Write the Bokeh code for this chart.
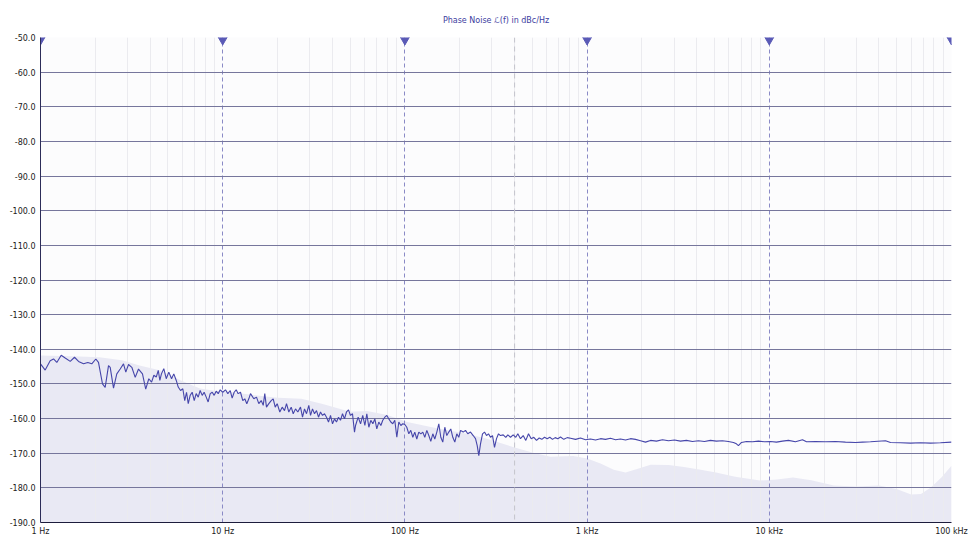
from bokeh.plotting import figure
from bokeh.models import FixedTicker, CustomJSTickFormatter, PrintfTickFormatter, Span, Range1d
from bokeh.embed import file_html
from bokeh.resources import INLINE

title_text = "Phase Noise \u2112(f) in dBc/Hz"

x_tick_values = [1, 10, 100, 1000, 10000, 100000]
x_tick_labels = ["1 Hz", "10 Hz", "100 Hz", "1 kHz", "10 kHz", "100 kHz"]
x_minor_values = [m * d for d in [1, 10, 100, 1000, 10000] for m in range(2, 10)]
y_tick_values = [-190, -180, -170, -160, -150, -140, -130, -120, -110, -100, -90, -80, -70, -60, -50]
marker_freq = 400

# measured phase noise trace
freq = [1.0, 1.061, 1.130, 1.179, 1.229, 1.299, 1.366, 1.456, 1.537, 1.617, 1.722, 1.818, 1.912, 2.012,
        2.081, 2.189, 2.265, 2.362, 2.413, 2.516, 2.623, 2.738, 2.855, 2.939, 3.041, 3.171, 3.310, 3.451,
        3.628, 3.78, 3.93, 4.07, 4.19, 4.32, 4.43, 4.52, 4.61, 4.75, 4.90, 5.06, 5.24, 5.39, 5.56, 5.70,
        5.87, 6.04, 6.19, 6.33, 6.47, 6.63, 6.80, 6.98, 7.15, 7.34, 7.52, 7.72, 7.91, 8.12, 8.32, 8.54,
        8.76, 8.98, 9.21, 9.45, 9.69, 10.01, 10.36, 10.67, 11.00, 11.27, 11.56, 11.86, 12.16, 12.52, 12.89,
        13.22, 13.56, 13.91, 14.21, 14.82, 15.33, 15.78, 16.27, 16.69, 17.02, 17.39, 17.91, 18.46, 18.93,
        19.42, 19.91, 20.58, 21.21, 21.84, 22.40, 23.06, 23.77, 24.38, 25.10, 25.84, 26.73, 27.42, 28.12,
        28.84, 29.69, 30.34, 31.11, 31.90, 32.72, 33.56, 34.42, 35.30, 36.21, 37.13, 38.08, 39.06, 40.06,
        41.08, 42.13, 43.21, 44.31, 45.45, 46.61, 47.80, 49.03, 50.28, 51.57, 52.89, 53.6, 55.4, 57.1,
        58.7, 60.3, 61.8, 63.4, 65.0, 66.7, 68.4, 70.1, 71.9, 73.8, 75.6, 77.6, 79.6, 81.6, 83.7, 85.8,
        88.0, 90.3, 92.6, 95.0, 97.4, 99.9, 102.4, 105.1, 107.7, 110.5, 113.3, 116.2, 119.2, 122.3, 125.4,
        128.6, 131.9, 135.3, 138.7, 142.3, 145.9, 149.7, 153.5, 157.4, 161.4, 165.6, 169.8, 174.1, 178.6,
        183.2, 187.9, 192.7, 197.6, 202.0, 208.9, 215.1, 221.4, 229.1, 237.1, 244.1, 249.4, 254.5, 260.0,
        266.7, 273.5, 280.5, 287.6, 295.0, 302.6, 310.3, 318.3, 326.4, 334.7, 346.3, 357.9, 367.1, 379.8,
        393.0, 406.2, 416.6, 430.9, 446.0, 460.9, 476.9, 493.4, 510.0, 527.7, 545.9, 564.2, 583.8, 604.0,
        624.2, 645.8, 668.2, 690.6, 714.5, 745.0, 777.7, 811, 864, 920, 980, 1044, 1112, 1185, 1262, 1344,
        1432, 1525, 1625, 1730, 1844, 1964, 2092, 2229, 2404, 2593, 2797, 3017, 3254, 3510, 3786, 4084,
        4405, 4751, 5125, 5528, 5963, 6357, 6599, 6770, 7036, 7495, 8084, 8720, 9406, 10150, 10950, 11810,
        12740, 13920, 15210, 16000, 17930, 20340, 23080, 26180, 29710, 32490, 35920, 43420, 46260, 52490,
        59540, 67550, 76640, 86940, 100000]
noise_dbc = [-144.2, -146.0, -143.3, -142.8, -143.8, -141.7, -142.5, -143.5, -142.3, -143.5, -144.2, -143.8,
             -144.2, -142.8, -143.8, -150.0, -151.0, -144.7, -145.2, -151.2, -147.1, -145.7, -144.2, -146.6,
             -144.4, -145.2, -148.1, -145.7, -147.1, -151.5, -148.5, -149.5, -147.5, -148.0, -146.1, -149.0,
             -147.1, -145.6, -148.5, -146.6, -148.5, -147.1, -149.0, -150.9, -151.9, -151.4, -154.8, -152.4,
             -155.7, -153.3, -152.4, -154.8, -152.8, -153.8, -151.9, -153.3, -152.4, -153.8, -155.2, -152.8,
             -152.4, -153.3, -152.1, -152.8, -151.7, -152.4, -151.7, -152.8, -151.9, -154.1, -152.4, -151.7,
             -152.8, -152.4, -154.8, -154.3, -155.7, -154.3, -152.8, -154.3, -153.8, -155.7, -154.8, -156.2,
             -152.8, -156.7, -155.7, -154.8, -154.3, -156.7, -155.7, -158.1, -156.7, -157.7, -155.7, -158.1,
             -156.7, -158.6, -157.2, -158.1, -156.7, -159.6, -157.2, -158.6, -156.2, -159.1, -157.2, -158.6,
             -157.7, -159.6, -158.1, -159.1, -158.6, -159.6, -161.0, -159.1, -161.5, -160.1, -161.0, -159.6,
             -160.5, -158.6, -160.1, -158.1, -157.5, -159.1, -158.6, -163.9, -162.0, -159.6, -161.5, -159.1,
             -162.0, -158.6, -162.5, -160.5, -161.5, -160.1, -163.0, -161.0, -162.0, -160.5, -159.6, -159.1,
             -160.1, -161.0, -161.5, -160.5, -165.4, -161.0, -162.0, -161.5, -161.7, -162.5, -164.4, -163.4,
             -165.4, -163.9, -165.9, -163.9, -164.4, -163.9, -165.4, -163.4, -164.9, -166.6, -164.4, -165.9,
             -163.9, -161.5, -165.4, -166.8, -162.5, -164.9, -163.9, -163.0, -165.4, -166.8, -164.4, -165.4,
             -163.4, -163.9, -163.4, -164.4, -163.9, -164.9, -165.8, -167.8, -170.7, -167.3, -164.4, -163.9,
             -164.9, -164.4, -165.4, -164.9, -168.3, -165.8, -164.4, -164.9, -164.7, -165.4, -164.7, -165.4,
             -164.7, -165.4, -164.4, -165.8, -164.9, -166.3, -164.4, -165.8, -165.4, -166.3, -165.6, -166.0,
             -165.4, -165.8, -165.4, -166.0, -165.5, -165.8, -165.3, -166.0, -165.5, -165.7, -166.0, -165.6,
             -166.1, -165.9, -166.2, -165.8, -166.0, -165.7, -166.1, -165.9, -166.2, -165.8, -166.0, -166.4,
             -166.8, -166.3, -166.5, -166.1, -166.4, -166.2, -166.5, -166.3, -166.6, -166.4, -166.6, -166.3,
             -166.5, -166.4, -166.6, -166.9, -167.3, -167.8, -166.9, -166.6, -166.7, -166.5, -166.7, -166.6,
             -166.8, -166.5, -166.3, -166.7, -166.1, -166.7, -166.6, -166.7, -166.6, -166.8, -166.9, -166.8,
             -166.7, -166.4, -166.9, -167.0, -167.1, -167.0, -167.1, -167.0, -166.8]

# shaded envelope
env_freq = [1.0, 1.5, 2.1, 2.8, 3.5, 4.56, 5.9, 7.5, 9.0, 11.5, 15, 20, 27, 35, 50, 62, 80, 103, 143, 219,
            282, 396, 500, 630, 840, 1000, 1185, 1400, 1625, 1900, 2230, 2800, 3400, 4200, 5100, 6500, 8900,
            11000, 13500, 17000, 22600, 30000, 40000, 50000, 60000, 68000, 77000, 88000, 100000]
env_dbc = [-141.8, -142.0, -142.3, -143.2, -144.7, -146.1, -149.0, -151.3, -152.0, -152.5, -153.3, -154.0,
           -154.3, -155.7, -158.0, -157.8, -159.0, -161.0, -162.6, -164.4, -165.8, -168.3, -169.8, -171.0,
           -170.8, -171.5, -173.0, -174.8, -175.6, -174.5, -173.3, -173.4, -174.0, -174.8, -175.6, -176.8,
           -177.9, -177.6, -177.0, -177.8, -179.3, -179.6, -179.3, -180.3, -181.9, -181.8, -179.9, -177.0,
           -173.6]

p = figure(width=971, height=542, x_axis_type="log",
           x_range=Range1d(1, 100000), y_range=Range1d(-190, -50),
           output_backend="svg", toolbar_location=None,
           min_border_left=40, min_border_right=20, min_border_top=37, min_border_bottom=20,
           title=title_text)

p.background_fill_color = "#fcfcfd"
p.border_fill_color = "#ffffff"
p.outline_line_color = None

p.title.align = "center"
p.title.text_font = "DejaVu Sans"
p.title.text_font_size = "8px"
p.title.text_font_style = "normal"
p.title.text_color = "#3d3da0"
p.title.standoff = 25

p.varea(x=env_freq, y1=-190, y2=env_dbc, fill_color="#e9e9f4", level="image")

xt = FixedTicker(ticks=x_tick_values, minor_ticks=x_minor_values)
p.xaxis.ticker = xt
p.xgrid.ticker = xt
p.xgrid.grid_line_color = "#8a8ac6"
p.xgrid.grid_line_dash = "4 3"
p.xgrid.minor_grid_line_color = "#ebebef"

yt = FixedTicker(ticks=y_tick_values)
p.yaxis.ticker = yt
p.ygrid.ticker = yt
p.ygrid.grid_line_color = "#76769c"

p.add_layout(Span(location=marker_freq, dimension="height", line_color="#c4c4cc",
                  line_dash="5 4", line_width=1, level="underlay"))

p.xaxis.formatter = CustomJSTickFormatter(args=dict(tv=x_tick_values, tl=x_tick_labels), code="""
    for (let i = 0; i < tv.length; i++) { if (Math.abs(tv[i] - tick) / tv[i] < 1e-6) return tl[i]; }
    return '';
""")
p.yaxis.formatter = PrintfTickFormatter(format="%.1f")

for ax in (p.xaxis, p.yaxis):
    ax.major_tick_in = 0
    ax.major_tick_out = 0
    ax.minor_tick_in = 0
    ax.minor_tick_out = 0
    ax.major_label_text_font = "DejaVu Sans"
    ax.major_label_text_font_size = "8px"
    ax.major_label_text_color = "#202020"
p.xaxis.major_label_standoff = 4
p.yaxis.major_label_standoff = 5
p.xaxis.axis_line_color = "#1c1c3c"
p.yaxis.axis_line_color = "#2c2c58"

p.line(freq, noise_dbc, line_color="#4646aa", line_width=1.1)

p.scatter(x=x_tick_values, y=[-50] * len(x_tick_values), marker="inverted_triangle",
          size=13, fill_color="#5a5ab6", line_color="#5a5ab6")

open("out.html", "w").write(file_html(p, INLINE))
